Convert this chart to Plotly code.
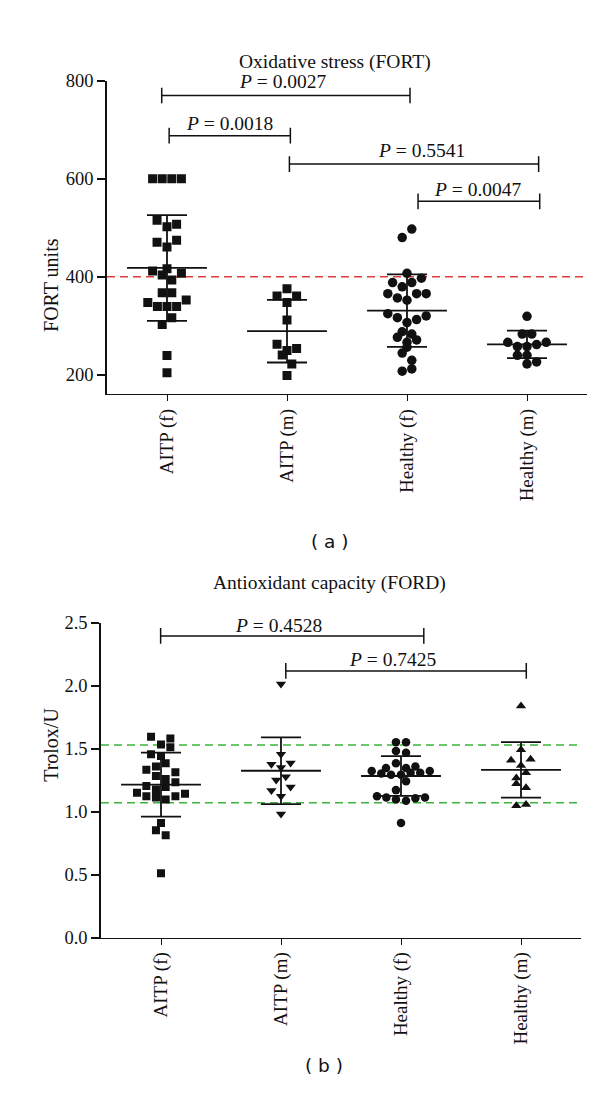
import plotly.graph_objects as go

# ---------------- data ----------------
categories = ["AITP (f)", "AITP (m)", "Healthy (f)", "Healthy (m)"]

# Panel (a): FORT units
fort_aitp_f = [600, 600, 600, 600, 515.6, 502, 507, 470.7, 474.8, 460.7, 411.7, 416.5, 407,
               403.7, 393.6, 367.5, 367.5, 347.4, 352.8, 339.3, 339.3, 339.3, 316.6, 302.5,
               239.5, 204]
fort_aitp_f_dx = [-0.12, -0.04, 0.04, 0.12, -0.083, 0, 0.08, -0.083, 0.08, 0, -0.12, 0, 0.12,
                  -0.04, 0.04, -0.04, 0.04, -0.16, 0.16, -0.08, 0, 0.08, 0.04, -0.04, 0, 0]
fort_aitp_m = [375.5, 360.8, 360.8, 347.4, 312, 262.3, 253.6, 249.6, 240.2, 222.1, 198.6]
fort_aitp_m_dx = [0, -0.083, 0.08, 0, 0, -0.083, 0.08, 0, -0.04, 0.04, 0]
fort_healthy_f = [497.5, 480, 407, 388.3, 379.5, 388.3, 397, 365.4, 356.8, 352.2, 365.4, 365.4,
                  324.6, 316.6, 306.5, 312.6, 320, 287.8, 283, 276.4, 266.3, 271, 256.3, 244.2,
                  229.5, 207.4, 212]
fort_healthy_f_dx = [0.04, -0.04, 0, -0.12, -0.04, 0.04, 0.12, -0.16, -0.08, 0, 0.08, 0.16,
                     -0.16, -0.08, 0, 0.08, 0.16, -0.04, 0.04, -0.08, 0, 0.08, 0, -0.04,
                     0.04, -0.04, 0.04]
fort_healthy_m = [319.2, 283, 283, 266.3, 257.6, 257.6, 261.7, 266.3, 239.6, 239.6, 222.1, 226.1]
fort_healthy_m_dx = [0, -0.04, 0.04, -0.16, -0.08, 0, 0.08, 0.16, -0.08, 0, 0, 0.08]
fort_mean = [418, 289, 331, 262]
fort_sd = [108, 64, 74, 28]
fort_cutoff = 400
fort_pvalues = ["0.0027", "0.0018", "0.5541", "0.0047"]

# Panel (b): Trolox/U
ford_aitp_f = [1.595, 1.582, 1.533, 1.512, 1.455, 1.442, 1.385, 1.332, 1.359, 1.312, 1.283,
               1.260, 1.234, 1.203, 1.195, 1.151, 1.176, 1.137, 1.143, 1.122, 1.112, 1.096,
               1.122, 0.909, 0.852, 0.813, 0.511]
ford_aitp_f_dx = [-0.083, 0.078, 0, 0.078, -0.083, 0, 0.039, -0.122, -0.042, 0.12, -0.042,
                  0.039, 0.12, -0.122, 0.039, -0.2, -0.042, -0.042, 0.2, -0.122, -0.042,
                  0.039, 0.12, 0, -0.042, 0.039, 0]
ford_aitp_m = [2.014, 1.455, 1.377, 1.387, 1.351, 1.252, 1.278, 1.168, 1.195, 1.122, 0.981]
ford_aitp_m_dx = [0, 0, -0.08, 0.08, 0, -0.04, 0.04, -0.08, 0.08, 0, 0]
ford_healthy_f = [1.551, 1.551, 1.481, 1.468, 1.385, 1.346, 1.346, 1.359, 1.322, 1.304, 1.293,
                  1.293, 1.309, 1.309, 1.322, 1.241, 1.171, 1.122, 1.112, 1.096, 1.086, 1.106,
                  1.112, 0.909]
ford_healthy_f_dx = [-0.042, 0.042, -0.042, 0.042, -0.042, -0.125, 0.042, 0.12, -0.244, -0.164,
                     -0.083, 0, 0.08, 0.16, 0.24, 0.042, -0.042, -0.2, -0.122, -0.042, 0.042,
                     0.12, 0.2, 0]
ford_healthy_m = [1.839, 1.491, 1.408, 1.416, 1.366, 1.309, 1.268, 1.221, 1.190, 1.047, 1.057]
ford_healthy_m_dx = [0, 0, -0.083, 0.08, 0, 0.042, -0.039, -0.039, 0.042, -0.039, 0.042]
ford_mean = [1.215, 1.325, 1.283, 1.332]
ford_sd = [0.254, 0.265, 0.158, 0.221]
ford_reference = [1.07, 1.53]
ford_pvalues = ["0.4528", "0.7425"]

# ---------------- layout helpers ----------------
W, H = 600, 1103
FONT = "Liberation Serif"
BLACK = "#111111"

# brackets: (x0, x1, y, text_x, text_y)
fort_brackets = [(-0.044, 2.025, 770, 0.97, 798),
                 (0.018, 1.028, 688, 0.517, 712),
                 (1.02, 3.097, 630, 2.117, 658),
                 (2.092, 3.106, 554, 2.59, 578)]
ford_brackets = [(-0.003, 2.19, 2.396, 0.983, 2.475),
                 (1.04, 3.044, 2.118, 1.93, 2.21)]

fig = go.Figure()


def add_group(vals, dx, idx, symbol, size, xa, ya):
    fig.add_trace(go.Scatter(
        x=[idx + d for d in dx], y=vals, mode="markers",
        marker=dict(symbol=symbol, size=size, color=BLACK, line=dict(width=0)),
        xaxis=xa, yaxis=ya, showlegend=False, hoverinfo="y"))


def add_mean_sd(means, sds, xa, ya):
    xs, ys = [], []
    for i, (m, s) in enumerate(zip(means, sds)):
        xs += [i - 0.333, i + 0.333, None, i, i, None,
               i - 0.167, i + 0.167, None, i - 0.167, i + 0.167, None]
        ys += [m, m, None, m - s, m + s, None,
               m + s, m + s, None, m - s, m - s, None]
    fig.add_trace(go.Scatter(x=xs, y=ys, mode="lines",
                             line=dict(color=BLACK, width=1.8),
                             xaxis=xa, yaxis=ya, showlegend=False, hoverinfo="skip"))


def add_brackets(brackets, pvals, h, xa, ya, axref):
    xs, ys = [], []
    for (x0, x1, y, tx, ty), p in zip(brackets, pvals):
        xs += [x0, x1, None, x0, x0, None, x1, x1, None]
        ys += [y, y, None, y - h, y + h, None, y - h, y + h, None]
        fig.add_annotation(x=tx, y=ty, xref=axref[0], yref=axref[1],
                           text="<i>P</i> = " + p, showarrow=False,
                           font=dict(family=FONT, size=19.5, color=BLACK),
                           xanchor="center", yanchor="middle")
    fig.add_trace(go.Scatter(x=xs, y=ys, mode="lines",
                             line=dict(color=BLACK, width=1.5),
                             xaxis=xa, yaxis=ya, showlegend=False, hoverinfo="skip"))


# reference lines
fig.add_trace(go.Scatter(x=[-0.5, 3.5], y=[fort_cutoff, fort_cutoff], mode="lines",
                         line=dict(color="#e03c3c", width=1.5, dash="8px,5px"),
                         xaxis="x", yaxis="y", showlegend=False, hoverinfo="skip"))
for r in ford_reference:
    fig.add_trace(go.Scatter(x=[-0.5, 3.5], y=[r, r], mode="lines",
                             line=dict(color="#3cb43c", width=1.5, dash="8px,5px"),
                             xaxis="x2", yaxis="y2", showlegend=False, hoverinfo="skip"))

# panel (a)
add_group(fort_aitp_f, fort_aitp_f_dx, 0, "square", 9, "x", "y")
add_group(fort_aitp_m, fort_aitp_m_dx, 1, "square", 9, "x", "y")
add_group(fort_healthy_f, fort_healthy_f_dx, 2, "circle", 9.5, "x", "y")
add_group(fort_healthy_m, fort_healthy_m_dx, 3, "circle", 9.5, "x", "y")
add_mean_sd(fort_mean, fort_sd, "x", "y")
add_brackets(fort_brackets, fort_pvalues, 16, "x", "y", ("x", "y"))

# panel (b)
add_group(ford_aitp_f, ford_aitp_f_dx, 0, "square", 8, "x2", "y2")
add_group(ford_aitp_m, ford_aitp_m_dx, 1, "triangle-down", 9, "x2", "y2")
add_group(ford_healthy_f, ford_healthy_f_dx, 2, "circle", 8.5, "x2", "y2")
add_group(ford_healthy_m, ford_healthy_m_dx, 3, "triangle-up", 9, "x2", "y2")
add_mean_sd(ford_mean, ford_sd, "x2", "y2")
add_brackets(ford_brackets, ford_pvalues, 0.062, "x2", "y2", ("x2", "y2"))

ytickfont = dict(family=FONT, size=18.5, color=BLACK)
xtickfont = dict(family=FONT, size=19, color=BLACK)
xcommon = dict(range=[-0.5, 3.5], tickmode="array", tickvals=[0, 1, 2, 3],
               ticktext=categories, tickangle=-90, showline=True, linecolor=BLACK,
               linewidth=1.2, ticks="outside", ticklen=6, tickcolor=BLACK,
               showgrid=False, zeroline=False, tickfont=xtickfont, fixedrange=True)
ycommon = dict(showline=True, linecolor=BLACK, linewidth=1.5, ticks="outside",
               ticklen=8, tickcolor=BLACK, tickwidth=1.5, showgrid=False,
               zeroline=False, tickfont=ytickfont, fixedrange=True)

fig.update_layout(
    width=W, height=H,
    margin=dict(l=0, r=0, t=0, b=0),
    paper_bgcolor="white", plot_bgcolor="white",
    showlegend=False,
    xaxis=dict(domain=[99 / W, 579 / W], anchor="y", **xcommon),
    yaxis=dict(domain=[1 - 383.3 / H, 1 - 64 / H], anchor="x", range=[160, 800],
               tickvals=[200, 400, 600, 800], **ycommon),
    xaxis2=dict(domain=[93 / W, 573 / W], anchor="y2", **xcommon),
    yaxis2=dict(domain=[1 - 936.5 / H, 1 - 616 / H], anchor="x2", range=[0, 2.5],
                tickvals=[0, 0.5, 1.0, 1.5, 2.0, 2.5], tickformat=".1f", **ycommon),
)

# titles and labels
txt = dict(family=FONT, size=19.5, color=BLACK)
atxt = dict(family=FONT, size=20, color=BLACK)
fig.add_annotation(x=327 / W, y=1 - 32 / H, xref="paper", yref="paper",
                   text="Oxidative stress (FORT)", showarrow=False, font=txt)
fig.add_annotation(x=321 / W, y=1 - 575 / H, xref="paper", yref="paper",
                   text="Antioxidant capacity (FORD)", showarrow=False, font=txt)
fig.add_annotation(x=30 / W, y=1 - 222 / H, xref="paper", yref="paper",
                   text="FORT units", textangle=-90, showarrow=False, font=atxt)
fig.add_annotation(x=30 / W, y=1 - 780 / H, xref="paper", yref="paper",
                   text="Trolox/U", textangle=-90, showarrow=False, font=atxt)
lab = dict(family="DejaVu Sans", size=18.5, color=BLACK)
fig.add_annotation(x=322 / W, y=1 - 533 / H, xref="paper", yref="paper",
                   text="( a )", showarrow=False, font=lab)
fig.add_annotation(x=316 / W, y=1 - 1080 / H, xref="paper", yref="paper",
                   text="( b )", showarrow=False, font=lab)

fig.write_html("out.html")
